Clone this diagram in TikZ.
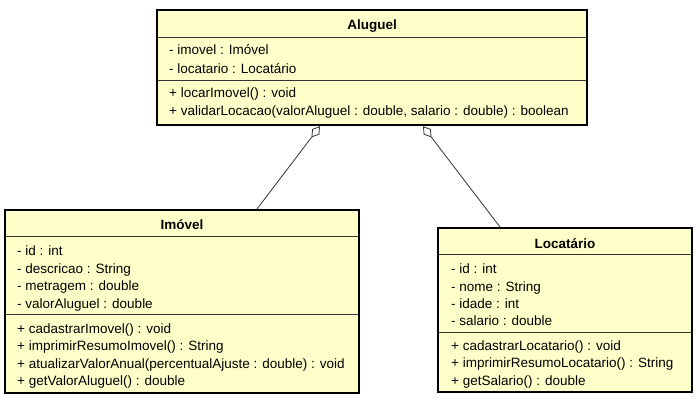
\documentclass[tikz,border=0pt]{standalone}
\usepackage{fontspec}
\setmainfont{Liberation Sans}
\usetikzlibrary{arrows.meta}
\definecolor{classfill}{HTML}{FFFFCA}
\definecolor{linegray}{HTML}{333333}
\tikzset{
  classbox/.style={draw=black, line width=2.2pt, fill=classfill, inner sep=0pt},
  divider/.style={draw=linegray, line width=0.9pt},
  member/.style={anchor=base west, inner sep=0pt, font=\fontsize{13.5}{16}\selectfont},
  title/.style={anchor=base, inner sep=0pt, font=\fontsize{13.5}{16}\selectfont\bfseries},
  aggr/.style={draw=linegray, line width=0.8pt, -{Diamond[open, length=14pt, width=9pt, line width=0.8pt]}}
}
\begin{document}
\begin{tikzpicture}[x=1pt, y=-1pt]
\useasboundingbox (0,0) rectangle (700,400);
% Aluguel
\node[classbox, minimum width=430pt, minimum height=115pt] (alug) at (372,67.5) {};
\draw[divider] (158,37) -- (586,37);
\draw[divider] (158,80) -- (586,80);
\node[title] (alugT) at (372,29) {Aluguel};
\node[member] (a1) at (169,54) {- imovel : Imóvel};
\node[member] (a2) at (169,73) {- locatario : Locatário};
\node[member] (a3) at (169,97) {+ locarImovel() : void};
\node[member] (a4) at (169,115) {+ validarLocacao(valorAluguel : double, salario : double) : boolean};
% Imovel
\node[classbox, minimum width=354pt, minimum height=183pt] (imov) at (182,301.5) {};
\draw[divider] (6,236) -- (358,236);
\draw[divider] (6,314) -- (358,314);
\node[title] (imovT) at (182,229) {Imóvel};
\node[member] (i1) at (17,255) {- id : int};
\node[member] (i2) at (17,273) {- descricao : String};
\node[member] (i3) at (17,290) {- metragem : double};
\node[member] (i4) at (17,308) {- valorAluguel : double};
\node[member] (i5) at (17,333) {+ cadastrarImovel() : void};
\node[member] (i6) at (17,350) {+ imprimirResumoImovel() : String};
\node[member] (i7) at (17,368) {+ atualizarValorAnual(percentualAjuste : double) : void};
\node[member] (i8) at (17,385) {+ getValorAluguel() : double};
% Locatario
\node[classbox, minimum width=254pt, minimum height=164pt] (loca) at (565,310) {};
\draw[divider] (439,254) -- (691,254);
\draw[divider] (439,332) -- (691,332);
\node[title] (locaT) at (565,248) {Locatário};
\node[member] (l1) at (451,273) {- id : int};
\node[member] (l2) at (451,291) {- nome : String};
\node[member] (l3) at (451,308) {- idade : int};
\node[member] (l4) at (451,325) {- salario : double};
\node[member] (l5) at (451,350) {+ cadastrarLocatario() : void};
\node[member] (l6) at (451,367) {+ imprimirResumoLocatario() : String};
\node[member] (l7) at (451,385) {+ getSalario() : double};
% connectors
\coordinate (aggL) at (320,126.2);
\coordinate (aggR) at (423,126.2);
\coordinate (imovTop) at (257,209);
\coordinate (locaTop) at (500,227);
\draw[aggr] (imovTop) -- (aggL);
\draw[aggr] (locaTop) -- (aggR);
\end{tikzpicture}
\end{document}
